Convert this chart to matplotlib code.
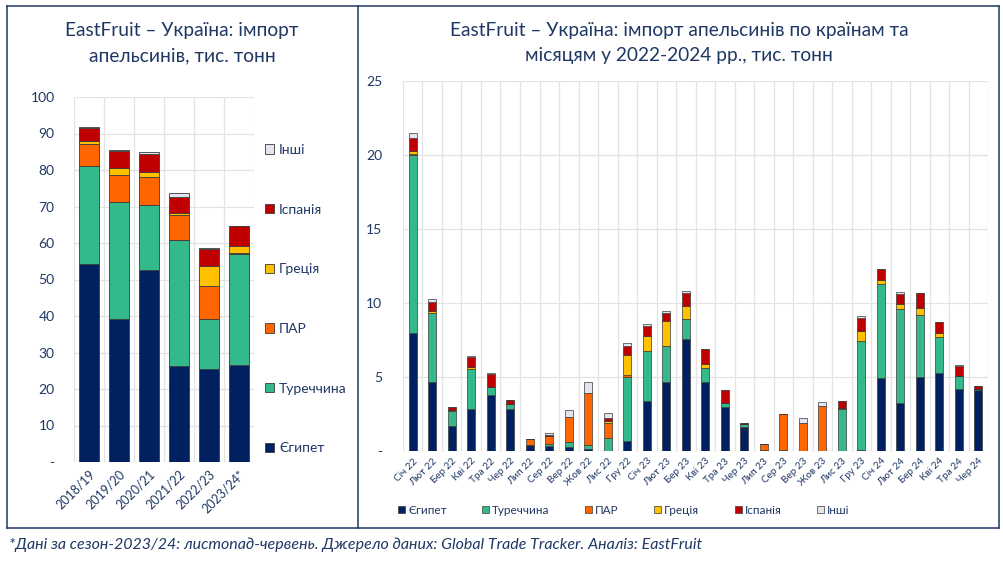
import matplotlib
matplotlib.use("Agg")
import matplotlib.pyplot as plt
import numpy as np
from matplotlib.patches import Patch
from matplotlib.lines import Line2D

plt.rcParams['font.family'] = ['Lato', 'DejaVu Sans']

NAVY_TXT = '#1F3864'
series_names = ['Єгипет', 'Туреччина', 'ПАР', 'Греція', 'Іспанія', 'Інші']
colors = ['#002060', '#33B98A', '#FF6600', '#FFC000', '#C00000', '#E4E4EE']

# Left chart: seasons
seasons = ['2018/19', '2019/20', '2020/21', '2021/22', '2022/23', '2023/24*']
s_egypt = [54.3, 39.1, 52.6, 26.4, 25.5, 26.7]
s_turkey = [26.7, 32.0, 17.9, 34.3, 13.8, 30.3]
s_par = [6.0, 7.5, 7.7, 6.9, 8.9, 0.3]
s_greece = [1.0, 1.9, 1.3, 0.6, 5.6, 2.0]
s_spain = [3.5, 4.7, 4.9, 4.5, 4.6, 5.3]
s_other = [0.4, 0.2, 0.5, 1.0, 0.3, 0.0]

# Right chart: months
months = ['Січ 22', 'Лют 22', 'Бер 22', 'Кві 22', 'Тра 22', 'Чер 22', 'Лип 22', 'Сер 22',
          'Вер 22', 'Жов 22', 'Лис 22', 'Гру 22', 'Січ 23', 'Лют 23', 'Бер 23', 'Кві 23',
          'Тра 23', 'Чер 23', 'Лип 23', 'Сер 23', 'Вер 23', 'Жов 23', 'Лис 23', 'Гру 23',
          'Січ 24', 'Лют 24', 'Бер 24', 'Кві 24', 'Тра 24', 'Чер 24']
m_egypt = [7.95, 4.64, 1.69, 2.82, 3.76, 2.82, 0.40, 0.36, 0.30, 0.14, 0.00, 0.65, 3.40, 4.64, 7.57,
           4.68, 2.95, 1.62, 0.05, 0.00, 0.00, 0.00, 0.00, 0.10, 4.91, 3.22, 5.02, 5.27, 4.17, 4.12]
m_turkey = [12.05, 4.66, 1.00, 2.70, 0.54, 0.33, 0.00, 0.08, 0.33, 0.24, 0.86, 4.33, 3.36, 2.48, 1.38,
            0.91, 0.32, 0.20, 0.00, 0.10, 0.00, 0.00, 2.82, 7.33, 6.35, 6.35, 4.17, 2.41, 0.88, 0.05]
m_par = [0.05, 0.05, 0.10, 0.00, 0.00, 0.00, 0.38, 0.60, 1.67, 3.52, 1.00, 0.15, 0.00, 0.00, 0.00,
         0.05, 0.00, 0.00, 0.45, 2.42, 1.87, 3.06, 0.10, 0.00, 0.00, 0.00, 0.00, 0.00, 0.00, 0.00]
m_greece = [0.25, 0.10, 0.00, 0.13, 0.00, 0.00, 0.00, 0.00, 0.00, 0.00, 0.16, 1.33, 1.03, 1.64, 0.87,
            0.26, 0.00, 0.00, 0.00, 0.00, 0.00, 0.00, 0.00, 0.68, 0.32, 0.34, 0.49, 0.27, 0.00, 0.00]
m_spain = [0.85, 0.60, 0.20, 0.72, 0.90, 0.27, 0.00, 0.05, 0.00, 0.00, 0.22, 0.64, 0.66, 0.54, 0.85,
           0.97, 0.83, 0.05, 0.00, 0.00, 0.00, 0.00, 0.45, 0.85, 0.69, 0.68, 1.02, 0.79, 0.69, 0.25]
m_other = [0.35, 0.25, 0.00, 0.05, 0.05, 0.00, 0.04, 0.10, 0.47, 0.78, 0.30, 0.22, 0.13, 0.14, 0.16,
           0.00, 0.00, 0.00, 0.00, 0.00, 0.33, 0.27, 0.03, 0.16, 0.03, 0.13, 0.00, 0.00, 0.09, 0.00]

W, H = 1004, 565
fig = plt.figure(figsize=(W / 100, H / 100), dpi=100)
fig.patch.set_facecolor('white')


def px_axes(x0, y0, x1, y1):
    return fig.add_axes([x0 / W, 1 - y1 / H, (x1 - x0) / W, (y1 - y0) / H])


def stacked(ax, cats, data, width, lw):
    x = np.arange(len(cats))
    bottom = np.zeros(len(cats))
    for name, vals, c in zip(series_names, data, colors):
        vals = np.array(vals, dtype=float)
        ax.bar(x, vals, width, bottom=bottom, color=c, edgecolor='#3A3A3A',
               linewidth=lw, label=name, zorder=3)
        bottom += vals
    ax.set_xlim(-0.5, len(cats) - 0.5)
    ax.set_xticks(x)
    ax.set_xticks(np.arange(-0.5, len(cats), 1.0), minor=True)
    ax.grid(True, which='minor', axis='x', color='#E3E3E3', linewidth=0.9, zorder=0)
    ax.grid(True, which='major', axis='y', color='#E3E3E3', linewidth=0.9, zorder=0)
    ax.tick_params(which='both', length=0)
    for s in ax.spines.values():
        s.set_visible(False)
    ax.set_axisbelow(True)


# Left chart
axL = px_axes(74, 97, 254, 462)
stacked(axL, seasons, [s_egypt, s_turkey, s_par, s_greece, s_spain, s_other], 0.64, 0.6)
axL.set_ylim(0, 100)
axL.set_yticks(np.arange(0, 101, 10))
axL.set_yticklabels(['-'] + [str(v) for v in range(10, 101, 10)], fontsize=10, color=NAVY_TXT)
axL.tick_params(axis='y', pad=14)
axL.set_xticklabels(seasons, rotation=45, ha='right', va='top', rotation_mode='anchor',
                    fontsize=9, color=NAVY_TXT)
axL.tick_params(axis='x', pad=4)

handlesL = [Patch(facecolor=c, edgecolor='#3A3A3A', linewidth=0.6) for c in colors]
legL = fig.legend(handlesL[::-1], series_names[::-1], loc='upper left',
                  bbox_to_anchor=(265 / W, 1 - 144 / H), frameon=False,
                  fontsize=10, labelspacing=3.43, handlelength=0.65, handleheight=0.65,
                  handletextpad=0.35, borderaxespad=0, borderpad=0)
for t in legL.get_texts():
    t.set_color(NAVY_TXT)

# Right chart
axR = px_axes(403, 81, 988, 451)
stacked(axR, months, [m_egypt, m_turkey, m_par, m_greece, m_spain, m_other], 0.43, 0.5)
axR.set_ylim(0, 25)
axR.set_yticks(np.arange(0, 26, 5))
axR.set_yticklabels(['-', '5', '10', '15', '20', '25'], fontsize=10, color=NAVY_TXT)
axR.tick_params(axis='y', pad=15)
axR.set_xticklabels(months, rotation=45, ha='right', va='top', rotation_mode='anchor',
                    fontsize=7.2, color=NAVY_TXT)
axR.tick_params(axis='x', pad=4)

handlesR = [Patch(facecolor=c, edgecolor='#3A3A3A', linewidth=0.5) for c in colors]
legR = fig.legend(handlesR, series_names, loc='center left',
                  bbox_to_anchor=(398 / W, 1 - 510 / H), frameon=False, ncol=6,
                  fontsize=8.5, columnspacing=3.0, handlelength=0.6, handleheight=0.6,
                  handletextpad=0.25, borderaxespad=0, borderpad=0)
for t in legR.get_texts():
    t.set_color(NAVY_TXT)

# Titles
fig.text(182 / W, 1 - 43 / H, 'EastFruit – Україна: імпорт\nапельсинів, тис. тонн',
         ha='center', va='center', fontsize=13.8, color=NAVY_TXT, linespacing=1.6)
fig.text(679 / W, 1 - 43 / H,
         'EastFruit – Україна: імпорт апельсинів по країнам та\nмісяцям у 2022-2024 рр., тис. тонн',
         ha='center', va='center', fontsize=13.8, color=NAVY_TXT, linespacing=1.6)

# Panel borders
bc = '#1F3864'
for (xa, ya, xb, yb) in [(7, 6, 999, 6), (7, 528, 999, 528), (7, 6, 7, 528),
                         (358, 6, 358, 528), (999, 6, 999, 528)]:
    fig.add_artist(Line2D([xa / W, xb / W], [1 - ya / H, 1 - yb / H], color=bc, linewidth=1.1))

# Footnote
fig.text(9 / W, 1 - 545 / H,
         '*Дані за сезон-2023/24: листопад-червень. Джерело даних: Global Trade Tracker. Аналіз: EastFruit',
         ha='left', va='center', fontsize=11.5, style='italic', color=NAVY_TXT)

fig.savefig('out.png', dpi=100, facecolor='white')
